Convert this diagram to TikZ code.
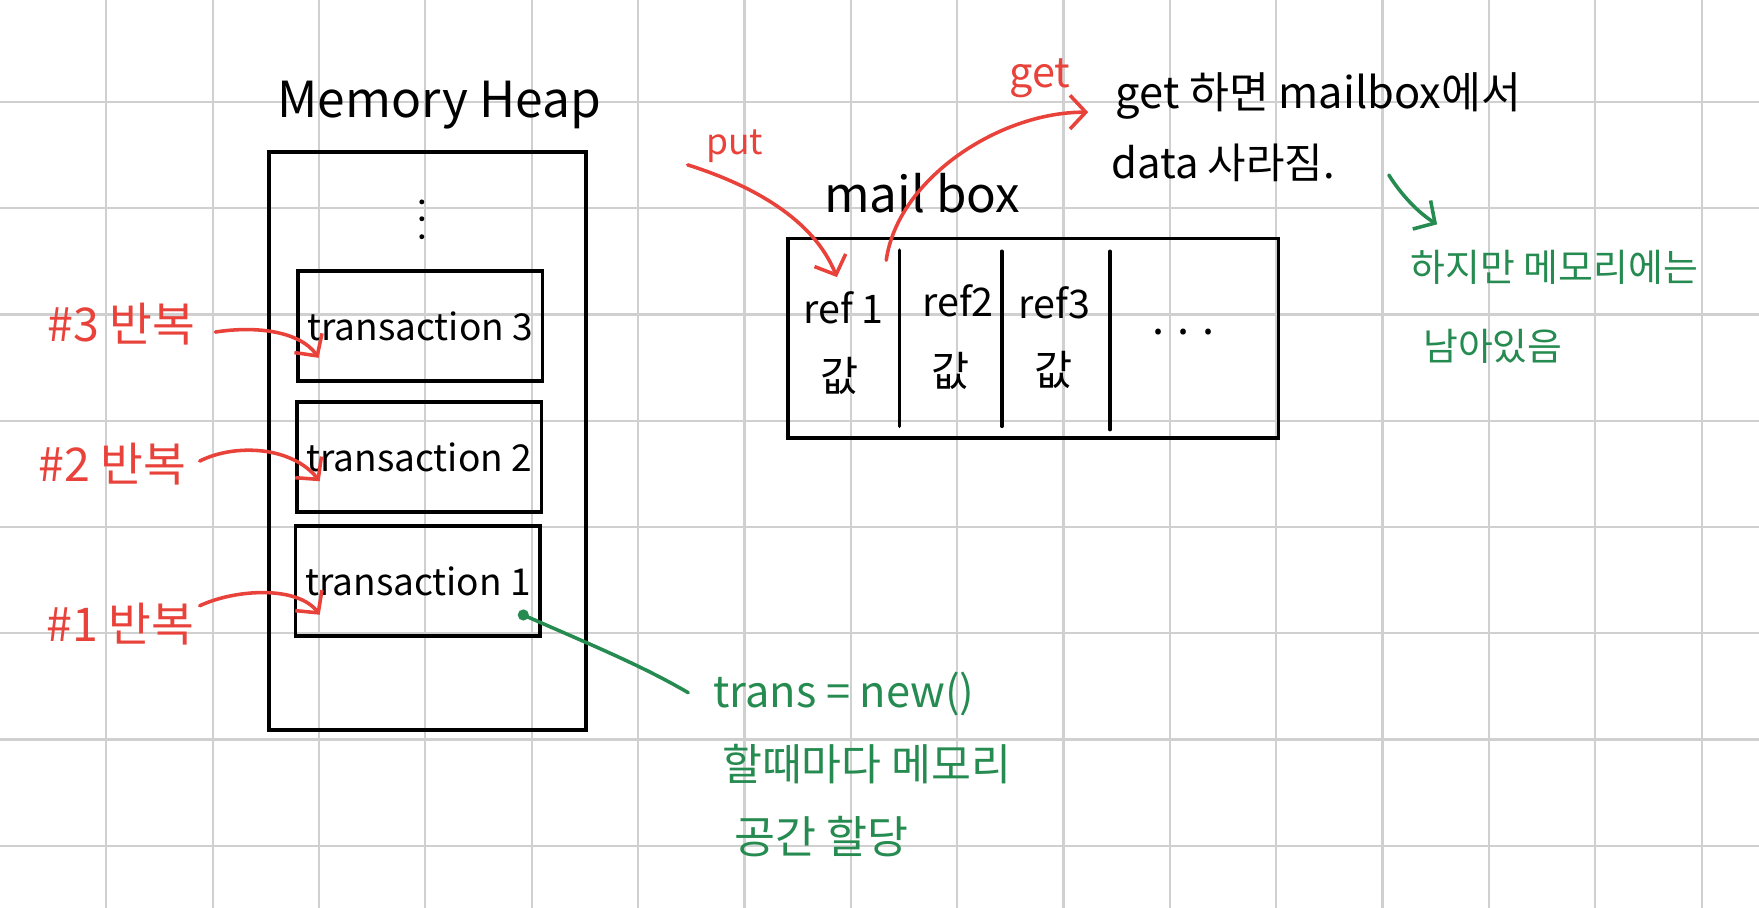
\documentclass[tikz,border=0pt]{standalone}
\usepackage{fontspec}
\setmainfont{Noto Sans CJK KR}
\usetikzlibrary{arrows.meta}
\definecolor{myred}{RGB}{232,66,58}
\definecolor{mygreen}{RGB}{38,139,80}
\definecolor{gridc}{RGB}{208,208,208}
\begin{document}
\begin{tikzpicture}[
  fs/.style={font=\fontsize{#1}{#1}\selectfont},
  box/.style={draw=black, line width=0.9pt, inner sep=0pt},
  lbl/.style={inner sep=0pt, text=black},
  redlbl/.style={inner sep=0pt, text=myred},
  greenlbl/.style={inner sep=0pt, text=mygreen, anchor=west},
  gridline/.style={draw=gridc, line width=0.55pt},
  redarrow/.style={draw=myred, line width=0.9pt, line cap=round, -{Straight Barb[length=1.4mm,width=3mm]}},
  greenarrow/.style={draw=mygreen, line width=0.9pt, line cap=round, -{Straight Barb[length=1.4mm,width=3mm]}},
  greenline/.style={draw=mygreen, line width=0.9pt, line cap=round},
  divider/.style={draw=black, line width=0.9pt, line cap=round}
]
\fill[white] (0,0) rectangle (15.68,-8.09);
\useasboundingbox (0,0) rectangle (15.68,-8.09);

% grid
\foreach \k in {1,...,16} \draw[gridline] ({0.948*\k},0) -- ({0.948*\k},-8.09);
\foreach \k in {0,...,7} \draw[gridline] (0,{-0.91-0.947*\k}) -- (15.68,{-0.91-0.947*\k});

% memory heap
\node[box, anchor=north west, minimum width=2.83cm, minimum height=5.15cm] (heap) at (2.38,-1.34) {};
\node[lbl, fs=12.6] (heaptitle) at (3.915,-0.94) {Memory Heap};
\foreach \y in {-1.80,-1.95,-2.11} \fill (3.76,\y) circle (0.022);

\node[box, anchor=north west, minimum width=2.18cm, minimum height=0.98cm, fs=9.4] (t3) at (2.64,-2.40) {transaction 3};
\node[box, anchor=north west, minimum width=2.18cm, minimum height=0.98cm, fs=9.4] (t2) at (2.63,-3.57) {transaction 2};
\node[box, anchor=north west, minimum width=2.18cm, minimum height=0.98cm, fs=9.4] (t1) at (2.62,-4.675) {transaction 1};

% red labels and arrows
\node[redlbl, fs=11.8] (l3) at (1.08,-2.89) {\#3 반복};
\node[redlbl, fs=11.8] (l2) at (1.00,-4.14) {\#2 반복};
\node[redlbl, fs=11.8] (l1) at (1.075,-5.56) {\#1 반복};
\coordinate (a3s) at (1.92,-2.96);
\coordinate (a3e) at (2.84,-3.19);
\coordinate (a2s) at (1.78,-4.11);
\coordinate (a2e) at (2.85,-4.29);
\coordinate (a1s) at (1.78,-5.40);
\coordinate (a1e) at (2.85,-5.48);
\draw[redarrow] (a3s) .. controls (2.30,-2.90) and (2.68,-2.96) .. (a3e);
\draw[redarrow] (a2s) .. controls (2.10,-3.95) and (2.60,-3.98) .. (a2e);
\draw[redarrow] (a1s) .. controls (2.10,-5.25) and (2.65,-5.22) .. (a1e);

% green note under heap
\coordinate (gdot) at (4.665,-5.482);
\fill[mygreen] (gdot) circle (0.05);
\node[greenlbl, fs=11] (g1) at (6.35,-6.19) {trans = new()};
\node[greenlbl, fs=11] (g2) at (6.43,-6.81) {할때마다 메모리};
\node[greenlbl, fs=11.3] (g3) at (6.54,-7.46) {공간 할당};
\coordinate (gend) at (6.135,-6.175);
\draw[greenline] (gdot) .. controls (5.2,-5.72) and (5.7,-5.92) .. (gend);

% mailbox
\node[box, anchor=north west, minimum width=4.37cm, minimum height=1.78cm] (mb) at (7.01,-2.11) {};
\node[lbl, fs=12.5] (mbtitle) at (8.22,-1.72) {mail box};
\draw[divider] (8.02,-2.23) -- (8.02,-3.80);
\draw[divider] (8.93,-2.24) -- (8.93,-3.80);
\draw[divider] (9.895,-2.24) -- (9.895,-3.83);
\node[lbl, fs=10] (r1) at (7.52,-2.74) {ref 1};
\node[lbl, fs=10] (r2) at (8.54,-2.68) {ref2};
\node[lbl, fs=10] (r3) at (9.40,-2.70) {ref3};
\node[lbl, fs=10.5] (v1) at (7.48,-3.35) {값};
\node[lbl, fs=10.5] (v2) at (8.47,-3.31) {값};
\node[lbl, fs=10.5] (v3) at (9.39,-3.30) {값};
\node[lbl, fs=11] (dots) at (10.55,-2.96) {. . .};

% put / get
\node[redlbl, fs=9] (put) at (6.55,-1.30) {put};
\node[redlbl, fs=10.5] (get) at (9.27,-0.70) {get};
\coordinate (puts) at (6.13,-1.47);
\coordinate (pute) at (7.46,-2.47);
\draw[redarrow] (puts) .. controls (6.70,-1.65) and (7.25,-1.95) .. (pute);
\coordinate (gets) at (7.90,-2.32);
\coordinate (gete) at (9.70,-1.00);
\draw[redarrow] (gets) .. controls (8.00,-1.60) and (8.90,-1.00) .. (gete);

% notes top right
\node[lbl, fs=11, anchor=west] (n1) at (9.94,-0.86) {get 하면 mailbox에서};
\node[lbl, fs=10.6, anchor=west] (n2) at (9.90,-1.45) {data 사라짐.};
\node[greenlbl, fs=9.6] (n3) at (12.57,-2.38) {하지만 메모리에는};
\node[greenlbl, fs=9.6] (n4) at (12.68,-3.09) {남아있음};
\coordinate (gas) at (12.38,-1.56);
\coordinate (gae) at (12.81,-2.00);
\draw[greenarrow] (gas) .. controls (12.50,-1.75) and (12.65,-1.90) .. (gae);
\end{tikzpicture}
\end{document}
